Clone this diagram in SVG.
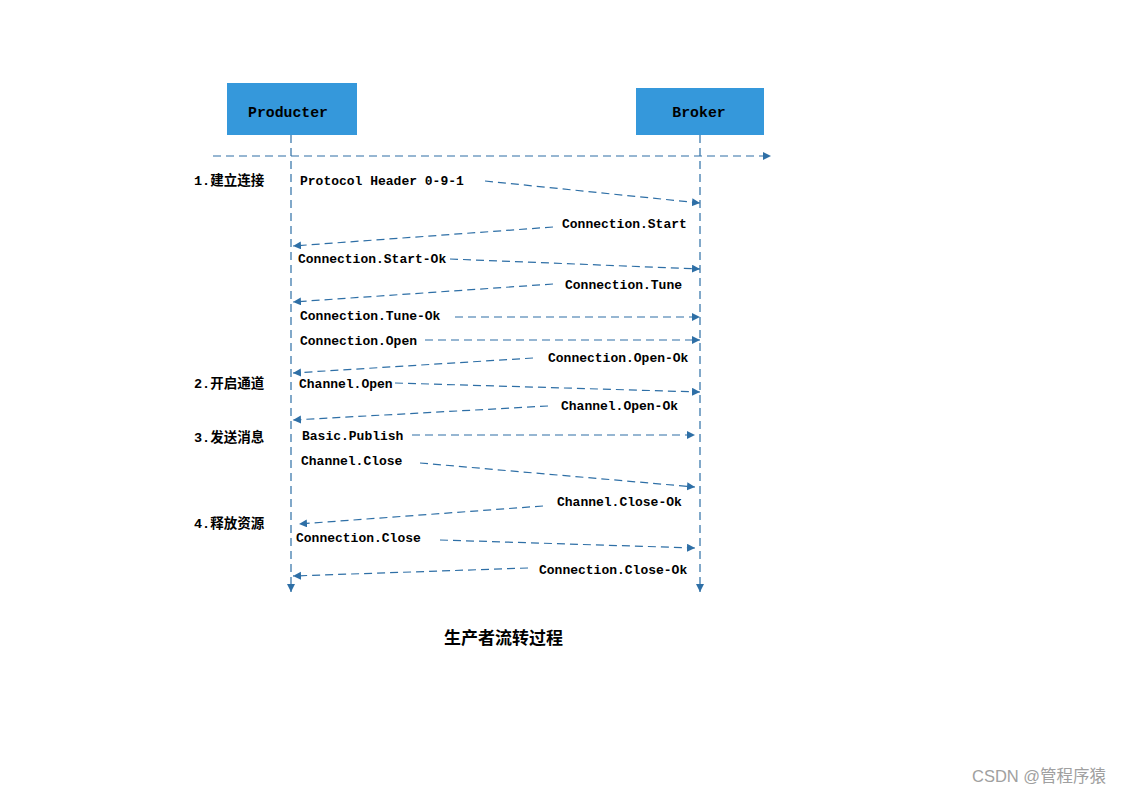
<svg xmlns="http://www.w3.org/2000/svg" width="1123" height="794" viewBox="0 0 1123 794">
<style>
.box{fill:#3598DB;}
.name{font-family:"Liberation Mono",monospace;font-size:14.8px;font-weight:bold;fill:#000;text-anchor:middle;}
.msg{font-family:"Liberation Mono",monospace;font-size:13px;font-weight:bold;fill:#000;}
.step{font-family:"Liberation Mono","Noto Sans CJK SC",sans-serif;font-size:13.5px;font-weight:bold;fill:#000;}
.title{font-family:"Noto Sans CJK SC",sans-serif;font-size:17px;font-weight:bold;fill:#000;}
.wm{font-family:"Liberation Sans","Noto Sans CJK SC",sans-serif;font-size:16.5px;fill:#a0a0a0;}
.ln{stroke:#2E6FA6;stroke-width:1.2;fill:none;stroke-dasharray:8 5;}
.ar{stroke:#2E6FA6;stroke-width:1.2;fill:none;stroke-dasharray:8 5;marker-end:url(#ah);}
</style>
<defs>
<marker id="ah" markerUnits="userSpaceOnUse" markerWidth="10" markerHeight="10" refX="8" refY="4" orient="auto">
<path d="M0,0 L8,4 L0,8 Z" fill="#2E6FA6"/>
</marker>
</defs>
<rect width="1123" height="794" fill="#fff"/>
<g id="producer">
<rect class="box" x="227" y="83" width="130" height="52"/>
<text class="name" x="288" y="117">Producter</text>
</g>
<g id="broker">
<rect class="box" x="636" y="88" width="128" height="47"/>
<text class="name" x="699" y="117">Broker</text>
</g>
<g id="connectors">
<line class="ar" x1="291" y1="135" x2="291" y2="592"/>
<line class="ar" x1="700" y1="135" x2="700" y2="592"/>
<line class="ar" x1="213" y1="156" x2="771" y2="156"/>
<line class="ar" x1="485" y1="181" x2="700" y2="203"/>
<line class="ar" x1="553" y1="227" x2="293" y2="246"/>
<line class="ar" x1="450" y1="259" x2="700" y2="269"/>
<line class="ar" x1="553" y1="284" x2="293" y2="302"/>
<line class="ar" x1="455" y1="317" x2="700" y2="317"/>
<line class="ar" x1="425" y1="340" x2="700" y2="340"/>
<line class="ar" x1="533" y1="358" x2="293" y2="373"/>
<line class="ar" x1="395" y1="383" x2="700" y2="392"/>
<line class="ar" x1="548" y1="406" x2="293" y2="420"/>
<line class="ar" x1="412" y1="435" x2="695" y2="435"/>
<line class="ar" x1="420" y1="463" x2="695" y2="487"/>
<line class="ar" x1="543" y1="506" x2="299" y2="524"/>
<line class="ar" x1="440" y1="540" x2="695" y2="548"/>
<line class="ar" x1="528" y1="568" x2="293" y2="576"/>
</g>
<g id="labels">
<text class="msg" x="300" y="185">Protocol Header 0-9-1</text>
<text class="msg" x="562" y="228">Connection.Start</text>
<text class="msg" x="298" y="263">Connection.Start-Ok</text>
<text class="msg" x="565" y="289">Connection.Tune</text>
<text class="msg" x="300" y="320">Connection.Tune-Ok</text>
<text class="msg" x="300" y="345">Connection.Open</text>
<text class="msg" x="548" y="362">Connection.Open-Ok</text>
<text class="msg" x="299" y="388">Channel.Open</text>
<text class="msg" x="561" y="410">Channel.Open-Ok</text>
<text class="msg" x="302" y="440">Basic.Publish</text>
<text class="msg" x="301" y="465">Channel.Close</text>
<text class="msg" x="557" y="506">Channel.Close-Ok</text>
<text class="msg" x="296" y="542">Connection.Close</text>
<text class="msg" x="539" y="574">Connection.Close-Ok</text>
</g>
<g id="steps">
<text class="step" x="194" y="185">1.建立连接</text>
<text class="step" x="194" y="388">2.开启通道</text>
<text class="step" x="194" y="442">3.发送消息</text>
<text class="step" x="194" y="528">4.释放资源</text>
</g>
<text class="title" x="444" y="644">生产者流转过程</text>
<text class="wm" x="972" y="782">CSDN @管程序猿</text>
</svg>
